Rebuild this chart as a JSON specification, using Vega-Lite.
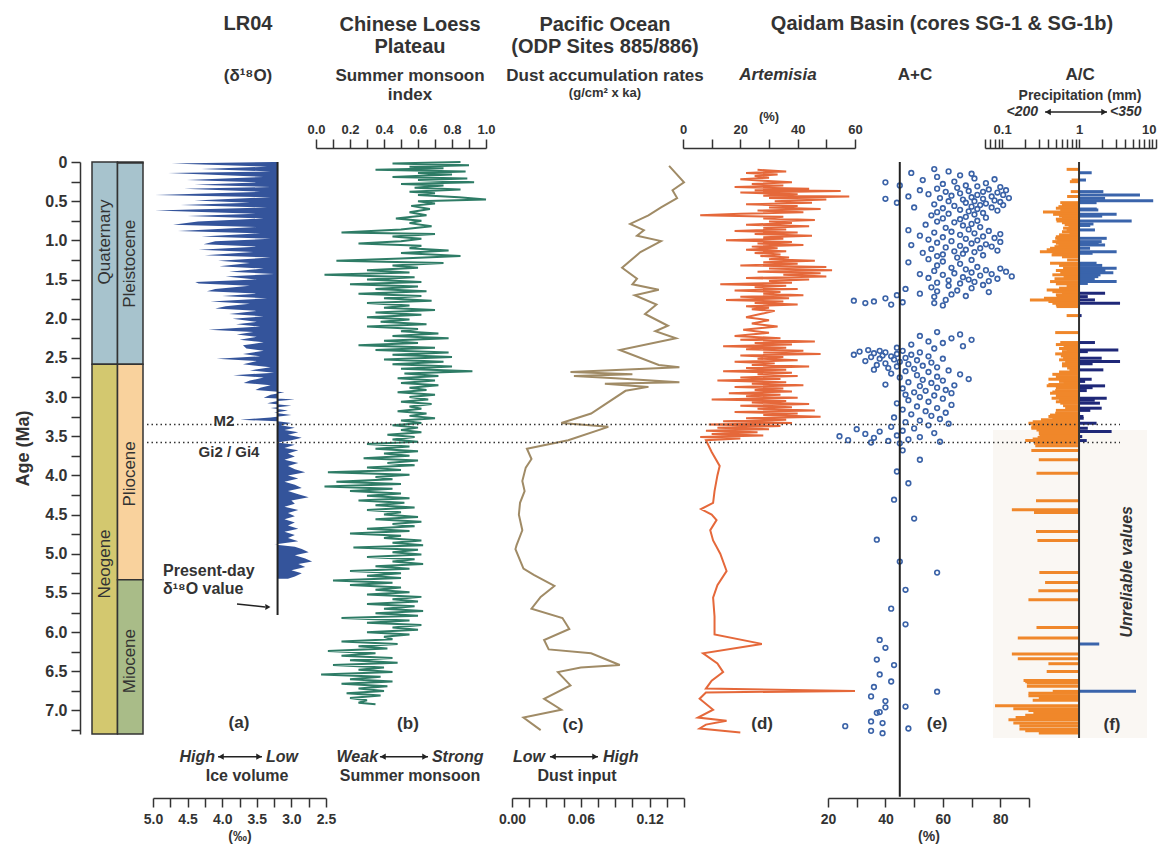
{
"$schema":"https://vega.github.io/schema/vega-lite/v6.json",
"width":1068,"height":572,
"autosize":{"type":"none"},
"padding":{"left":92,"top":162,"right":0,"bottom":112},
"background":"white",
"config":{
 "view":{"stroke":null},
 "font":"Liberation Sans",
 "axis":{"grid":false,"domainColor":"#333","domainWidth":1.5,"tickColor":"#333","tickWidth":1.5,"labelColor":"#333","labelFontWeight":"bold","titleColor":"#333","titleFontWeight":"bold"},
 "text":{"fontWeight":"bold","color":"#333","baseline":"middle","align":"center"}
},
"datasets":{
 "one":[{"n":1}],
 "ts":[{"unit":"Quaternary","level":"Period","age":0,"end":2.58},{"unit":"Neogene","level":"Period","age":2.58,"end":7.3},{"unit":"Holocene","level":"Epoch","age":0,"end":0.0117},{"unit":"Pleistocene","level":"Epoch","age":0.0117,"end":2.58},{"unit":"Pliocene","level":"Epoch","age":2.58,"end":5.333},{"unit":"Miocene","level":"Epoch","age":5.333,"end":7.3}],
 "lr04":[{"age":0.0,"v":3.25},{"age":0.02,"v":4.73},{"age":0.06,"v":3.35},{"age":0.09,"v":4.3},{"age":0.12,"v":3.3},{"age":0.14,"v":4.78},{"age":0.19,"v":3.4},{"age":0.23,"v":4.51},{"age":0.26,"v":3.5},{"age":0.29,"v":4.4},{"age":0.32,"v":3.3},{"age":0.34,"v":4.55},{"age":0.38,"v":3.45},{"age":0.42,"v":4.97},{"age":0.45,"v":3.3},{"age":0.49,"v":4.4},{"age":0.52,"v":3.6},{"age":0.55,"v":4.6},{"age":0.58,"v":3.35},{"age":0.62,"v":4.97},{"age":0.66,"v":3.5},{"age":0.69,"v":4.5},{"age":0.72,"v":3.4},{"age":0.76,"v":4.35},{"age":0.8,"v":4.71},{"age":0.83,"v":3.5},{"age":0.86,"v":4.2},{"age":0.88,"v":4.64},{"age":0.91,"v":3.45},{"age":0.95,"v":4.3},{"age":0.98,"v":3.3},{"age":1.01,"v":4.1},{"age":1.05,"v":4.27},{"age":1.08,"v":3.5},{"age":1.12,"v":4.34},{"age":1.15,"v":3.55},{"age":1.19,"v":4.25},{"age":1.22,"v":3.3},{"age":1.26,"v":4.06},{"age":1.29,"v":3.6},{"age":1.33,"v":4.04},{"age":1.36,"v":3.4},{"age":1.4,"v":3.9},{"age":1.43,"v":3.25},{"age":1.46,"v":3.95},{"age":1.5,"v":3.5},{"age":1.53,"v":4.39},{"age":1.55,"v":4.34},{"age":1.58,"v":3.6},{"age":1.62,"v":4.1},{"age":1.65,"v":4.22},{"age":1.68,"v":3.5},{"age":1.71,"v":4.0},{"age":1.74,"v":3.35},{"age":1.78,"v":4.17},{"age":1.81,"v":3.6},{"age":1.84,"v":3.95},{"age":1.87,"v":4.1},{"age":1.9,"v":3.5},{"age":1.94,"v":3.9},{"age":1.97,"v":3.4},{"age":2.0,"v":3.85},{"age":2.04,"v":3.5},{"age":2.07,"v":3.8},{"age":2.1,"v":3.45},{"age":2.14,"v":4.2},{"age":2.17,"v":3.55},{"age":2.2,"v":3.79},{"age":2.23,"v":3.5},{"age":2.27,"v":3.75},{"age":2.3,"v":3.4},{"age":2.34,"v":3.7},{"age":2.38,"v":3.65},{"age":2.41,"v":3.4},{"age":2.45,"v":3.7},{"age":2.48,"v":3.45},{"age":2.51,"v":4.08},{"age":2.54,"v":3.5},{"age":2.58,"v":3.7},{"age":2.62,"v":3.3},{"age":2.66,"v":3.6},{"age":2.69,"v":3.25},{"age":2.72,"v":3.84},{"age":2.75,"v":3.4},{"age":2.79,"v":3.6},{"age":2.82,"v":3.69},{"age":2.85,"v":3.3},{"age":2.88,"v":3.45},{"age":2.91,"v":3.52},{"age":2.94,"v":3.1},{"age":2.97,"v":3.3},{"age":3.01,"v":3.4},{"age":3.03,"v":2.95},{"age":3.05,"v":3.2},{"age":3.08,"v":3.35},{"age":3.11,"v":3.0},{"age":3.14,"v":3.3},{"age":3.17,"v":3.05},{"age":3.2,"v":3.25},{"age":3.23,"v":3.0},{"age":3.26,"v":3.3},{"age":3.29,"v":3.74},{"age":3.31,"v":3.2},{"age":3.33,"v":3.0},{"age":3.36,"v":3.15},{"age":3.39,"v":2.95},{"age":3.42,"v":3.1},{"age":3.45,"v":2.9},{"age":3.48,"v":3.05},{"age":3.52,"v":2.85},{"age":3.55,"v":3.0},{"age":3.58,"v":3.2},{"age":3.61,"v":2.95},{"age":3.65,"v":3.1},{"age":3.68,"v":2.9},{"age":3.72,"v":3.05},{"age":3.76,"v":2.95},{"age":3.8,"v":3.1},{"age":3.84,"v":2.9},{"age":3.88,"v":3.05},{"age":3.92,"v":2.95},{"age":3.96,"v":2.8},{"age":4.0,"v":3.05},{"age":4.04,"v":2.9},{"age":4.08,"v":3.1},{"age":4.12,"v":2.95},{"age":4.16,"v":2.85},{"age":4.2,"v":3.05},{"age":4.24,"v":2.9},{"age":4.28,"v":2.75},{"age":4.32,"v":3.0},{"age":4.36,"v":2.95},{"age":4.4,"v":3.1},{"age":4.44,"v":2.9},{"age":4.48,"v":3.05},{"age":4.52,"v":2.95},{"age":4.56,"v":3.1},{"age":4.6,"v":2.95},{"age":4.64,"v":3.05},{"age":4.68,"v":2.9},{"age":4.72,"v":3.1},{"age":4.76,"v":2.95},{"age":4.8,"v":3.05},{"age":4.84,"v":2.9},{"age":4.88,"v":3.25},{"age":4.91,"v":2.95},{"age":4.94,"v":2.85},{"age":4.98,"v":2.75},{"age":5.02,"v":2.95},{"age":5.06,"v":2.8},{"age":5.1,"v":2.7},{"age":5.13,"v":2.9},{"age":5.17,"v":2.8},{"age":5.21,"v":3.0},{"age":5.25,"v":2.85},{"age":5.29,"v":2.95},{"age":5.32,"v":3.05}],
 "loess":[{"age":0.0,"v":0.85},{"age":0.02,"v":0.45},{"age":0.04,"v":0.9},{"age":0.06,"v":0.55},{"age":0.08,"v":0.75},{"age":0.1,"v":0.35},{"age":0.12,"v":0.88},{"age":0.14,"v":0.6},{"age":0.16,"v":0.8},{"age":0.19,"v":0.45},{"age":0.21,"v":0.89},{"age":0.23,"v":0.6},{"age":0.26,"v":0.93},{"age":0.28,"v":0.5},{"age":0.3,"v":0.75},{"age":0.33,"v":0.58},{"age":0.35,"v":0.85},{"age":0.38,"v":0.55},{"age":0.4,"v":0.7},{"age":0.42,"v":0.6},{"age":0.45,"v":0.84},{"age":0.48,"v":1.0},{"age":0.5,"v":0.6},{"age":0.53,"v":0.7},{"age":0.56,"v":0.56},{"age":0.6,"v":0.67},{"age":0.64,"v":0.55},{"age":0.68,"v":0.65},{"age":0.72,"v":0.47},{"age":0.75,"v":0.62},{"age":0.78,"v":0.55},{"age":0.82,"v":0.68},{"age":0.86,"v":0.5},{"age":0.9,"v":0.15},{"age":0.92,"v":0.7},{"age":0.95,"v":0.45},{"age":0.98,"v":0.62},{"age":1.01,"v":0.5},{"age":1.04,"v":0.25},{"age":1.07,"v":0.62},{"age":1.1,"v":0.55},{"age":1.13,"v":0.78},{"age":1.16,"v":0.5},{"age":1.2,"v":0.85},{"age":1.23,"v":0.5},{"age":1.26,"v":0.12},{"age":1.29,"v":0.75},{"age":1.32,"v":0.45},{"age":1.35,"v":0.6},{"age":1.38,"v":0.3},{"age":1.41,"v":0.55},{"age":1.44,"v":0.05},{"age":1.47,"v":0.58},{"age":1.5,"v":0.3},{"age":1.53,"v":0.62},{"age":1.56,"v":0.2},{"age":1.59,"v":0.6},{"age":1.62,"v":0.35},{"age":1.65,"v":0.65},{"age":1.68,"v":0.25},{"age":1.71,"v":0.62},{"age":1.74,"v":0.4},{"age":1.77,"v":0.68},{"age":1.8,"v":0.3},{"age":1.83,"v":0.55},{"age":1.86,"v":0.4},{"age":1.89,"v":0.7},{"age":1.92,"v":0.35},{"age":1.95,"v":0.62},{"age":1.98,"v":0.3},{"age":2.01,"v":0.55},{"age":2.04,"v":0.38},{"age":2.07,"v":0.65},{"age":2.1,"v":0.3},{"age":2.13,"v":0.6},{"age":2.16,"v":0.5},{"age":2.19,"v":0.72},{"age":2.22,"v":0.45},{"age":2.25,"v":0.78},{"age":2.28,"v":0.4},{"age":2.31,"v":0.6},{"age":2.34,"v":0.25},{"age":2.37,"v":0.7},{"age":2.4,"v":0.35},{"age":2.43,"v":0.78},{"age":2.46,"v":0.45},{"age":2.49,"v":0.8},{"age":2.52,"v":0.4},{"age":2.55,"v":0.75},{"age":2.58,"v":0.45},{"age":2.61,"v":0.8},{"age":2.64,"v":0.5},{"age":2.67,"v":0.92},{"age":2.7,"v":0.52},{"age":2.73,"v":0.72},{"age":2.76,"v":0.48},{"age":2.79,"v":0.7},{"age":2.82,"v":0.5},{"age":2.85,"v":0.72},{"age":2.88,"v":0.55},{"age":2.91,"v":0.65},{"age":2.94,"v":0.48},{"age":2.97,"v":0.7},{"age":3.0,"v":0.55},{"age":3.03,"v":0.66},{"age":3.06,"v":0.5},{"age":3.09,"v":0.68},{"age":3.12,"v":0.55},{"age":3.15,"v":0.62},{"age":3.18,"v":0.48},{"age":3.21,"v":0.65},{"age":3.24,"v":0.55},{"age":3.27,"v":0.7},{"age":3.3,"v":0.5},{"age":3.33,"v":0.62},{"age":3.36,"v":0.45},{"age":3.39,"v":0.6},{"age":3.42,"v":0.5},{"age":3.45,"v":0.62},{"age":3.48,"v":0.42},{"age":3.51,"v":0.58},{"age":3.54,"v":0.45},{"age":3.57,"v":0.6},{"age":3.6,"v":0.3},{"age":3.63,"v":0.55},{"age":3.66,"v":0.35},{"age":3.69,"v":0.6},{"age":3.72,"v":0.4},{"age":3.75,"v":0.55},{"age":3.78,"v":0.28},{"age":3.81,"v":0.6},{"age":3.84,"v":0.42},{"age":3.87,"v":0.58},{"age":3.9,"v":0.3},{"age":3.93,"v":0.5},{"age":3.96,"v":0.07},{"age":3.99,"v":0.55},{"age":4.02,"v":0.35},{"age":4.05,"v":0.45},{"age":4.08,"v":0.12},{"age":4.11,"v":0.5},{"age":4.14,"v":0.05},{"age":4.17,"v":0.45},{"age":4.2,"v":0.2},{"age":4.23,"v":0.5},{"age":4.26,"v":0.3},{"age":4.29,"v":0.55},{"age":4.32,"v":0.25},{"age":4.35,"v":0.52},{"age":4.38,"v":0.35},{"age":4.41,"v":0.58},{"age":4.44,"v":0.3},{"age":4.47,"v":0.5},{"age":4.5,"v":0.4},{"age":4.53,"v":0.6},{"age":4.56,"v":0.35},{"age":4.59,"v":0.62},{"age":4.62,"v":0.45},{"age":4.65,"v":0.58},{"age":4.68,"v":0.3},{"age":4.71,"v":0.55},{"age":4.74,"v":0.2},{"age":4.77,"v":0.5},{"age":4.8,"v":0.4},{"age":4.83,"v":0.62},{"age":4.86,"v":0.45},{"age":4.89,"v":0.63},{"age":4.92,"v":0.22},{"age":4.95,"v":0.6},{"age":4.98,"v":0.45},{"age":5.01,"v":0.62},{"age":5.04,"v":0.3},{"age":5.07,"v":0.58},{"age":5.1,"v":0.45},{"age":5.13,"v":0.63},{"age":5.16,"v":0.35},{"age":5.19,"v":0.55},{"age":5.22,"v":0.2},{"age":5.25,"v":0.5},{"age":5.28,"v":0.3},{"age":5.31,"v":0.5},{"age":5.34,"v":0.1},{"age":5.37,"v":0.45},{"age":5.4,"v":0.2},{"age":5.43,"v":0.5},{"age":5.46,"v":0.35},{"age":5.49,"v":0.55},{"age":5.52,"v":0.3},{"age":5.55,"v":0.62},{"age":5.58,"v":0.45},{"age":5.61,"v":0.6},{"age":5.64,"v":0.3},{"age":5.67,"v":0.58},{"age":5.7,"v":0.4},{"age":5.73,"v":0.63},{"age":5.76,"v":0.35},{"age":5.79,"v":0.6},{"age":5.82,"v":0.15},{"age":5.85,"v":0.55},{"age":5.88,"v":0.3},{"age":5.91,"v":0.62},{"age":5.94,"v":0.45},{"age":5.97,"v":0.6},{"age":6.0,"v":0.3},{"age":6.03,"v":0.55},{"age":6.06,"v":0.4},{"age":6.09,"v":0.45},{"age":6.12,"v":0.15},{"age":6.15,"v":0.48},{"age":6.18,"v":0.25},{"age":6.21,"v":0.42},{"age":6.24,"v":0.07},{"age":6.27,"v":0.35},{"age":6.3,"v":0.15},{"age":6.33,"v":0.45},{"age":6.36,"v":0.2},{"age":6.39,"v":0.48},{"age":6.42,"v":0.1},{"age":6.45,"v":0.4},{"age":6.48,"v":0.25},{"age":6.51,"v":0.45},{"age":6.54,"v":0.03},{"age":6.57,"v":0.38},{"age":6.6,"v":0.2},{"age":6.63,"v":0.45},{"age":6.66,"v":0.15},{"age":6.69,"v":0.42},{"age":6.72,"v":0.25},{"age":6.75,"v":0.4},{"age":6.78,"v":0.18},{"age":6.81,"v":0.38},{"age":6.84,"v":0.2},{"age":6.87,"v":0.3},{"age":6.9,"v":0.25},{"age":6.92,"v":0.35}],
 "dust":[{"age":0.05,"v":0.137},{"age":0.26,"v":0.15},{"age":0.36,"v":0.14},{"age":0.46,"v":0.144},{"age":0.58,"v":0.13},{"age":0.68,"v":0.119},{"age":0.79,"v":0.103},{"age":0.87,"v":0.115},{"age":0.94,"v":0.109},{"age":1.01,"v":0.13},{"age":1.15,"v":0.112},{"age":1.35,"v":0.096},{"age":1.49,"v":0.109},{"age":1.56,"v":0.105},{"age":1.63,"v":0.128},{"age":1.7,"v":0.107},{"age":1.82,"v":0.126},{"age":1.94,"v":0.116},{"age":2.09,"v":0.136},{"age":2.16,"v":0.125},{"age":2.25,"v":0.143},{"age":2.4,"v":0.094},{"age":2.59,"v":0.128},{"age":2.62,"v":0.146},{"age":2.68,"v":0.051},{"age":2.71,"v":0.105},{"age":2.73,"v":0.054},{"age":2.76,"v":0.09},{"age":2.81,"v":0.146},{"age":2.83,"v":0.081},{"age":2.87,"v":0.119},{"age":2.92,"v":0.099},{"age":3.21,"v":0.069},{"age":3.33,"v":0.043},{"age":3.38,"v":0.084},{"age":3.55,"v":0.049},{"age":3.66,"v":0.013},{"age":3.79,"v":0.017},{"age":3.9,"v":0.012},{"age":4.07,"v":0.009},{"age":4.2,"v":0.011},{"age":4.35,"v":0.007},{"age":4.5,"v":0.006},{"age":4.7,"v":0.009},{"age":4.89,"v":0.004},{"age":4.94,"v":0.003},{"age":5.19,"v":0.01},{"age":5.27,"v":0.019},{"age":5.41,"v":0.037},{"age":5.55,"v":0.025},{"age":5.7,"v":0.017},{"age":5.82,"v":0.044},{"age":5.96,"v":0.05},{"age":6.1,"v":0.028},{"age":6.22,"v":0.032},{"age":6.27,"v":0.069},{"age":6.42,"v":0.094},{"age":6.45,"v":0.06},{"age":6.51,"v":0.04},{"age":6.68,"v":0.051},{"age":6.85,"v":0.028},{"age":6.99,"v":0.043},{"age":7.09,"v":0.01},{"age":7.25,"v":0.025}],
 "art":[{"age":0.1,"v":26},{"age":0.12,"v":36},{"age":0.14,"v":22},{"age":0.16,"v":33},{"age":0.18,"v":25},{"age":0.2,"v":30},{"age":0.22,"v":20},{"age":0.24,"v":28},{"age":0.26,"v":38},{"age":0.28,"v":24},{"age":0.3,"v":35},{"age":0.32,"v":18},{"age":0.34,"v":44},{"age":0.36,"v":25},{"age":0.37,"v":55},{"age":0.39,"v":20},{"age":0.41,"v":40},{"age":0.43,"v":28},{"age":0.44,"v":58},{"age":0.46,"v":30},{"age":0.48,"v":50},{"age":0.5,"v":32},{"age":0.52,"v":45},{"age":0.54,"v":22},{"age":0.56,"v":40},{"age":0.58,"v":30},{"age":0.6,"v":48},{"age":0.62,"v":26},{"age":0.64,"v":42},{"age":0.66,"v":20},{"age":0.68,"v":6},{"age":0.7,"v":35},{"age":0.72,"v":28},{"age":0.74,"v":46},{"age":0.76,"v":30},{"age":0.78,"v":38},{"age":0.8,"v":22},{"age":0.82,"v":44},{"age":0.84,"v":28},{"age":0.86,"v":36},{"age":0.88,"v":18},{"age":0.9,"v":40},{"age":0.92,"v":25},{"age":0.94,"v":45},{"age":0.96,"v":28},{"age":0.98,"v":35},{"age":1.0,"v":15},{"age":1.02,"v":38},{"age":1.04,"v":26},{"age":1.06,"v":42},{"age":1.08,"v":24},{"age":1.1,"v":33},{"age":1.12,"v":22},{"age":1.14,"v":36},{"age":1.16,"v":25},{"age":1.18,"v":34},{"age":1.2,"v":27},{"age":1.22,"v":37},{"age":1.24,"v":30},{"age":1.26,"v":46},{"age":1.28,"v":28},{"age":1.3,"v":40},{"age":1.32,"v":20},{"age":1.34,"v":50},{"age":1.36,"v":30},{"age":1.38,"v":52},{"age":1.4,"v":26},{"age":1.42,"v":48},{"age":1.44,"v":35},{"age":1.46,"v":50},{"age":1.48,"v":22},{"age":1.5,"v":44},{"age":1.52,"v":30},{"age":1.54,"v":38},{"age":1.56,"v":13},{"age":1.58,"v":36},{"age":1.6,"v":25},{"age":1.62,"v":40},{"age":1.64,"v":18},{"age":1.66,"v":34},{"age":1.68,"v":28},{"age":1.7,"v":42},{"age":1.72,"v":20},{"age":1.74,"v":37},{"age":1.76,"v":15},{"age":1.78,"v":35},{"age":1.8,"v":25},{"age":1.82,"v":40},{"age":1.84,"v":22},{"age":1.86,"v":30},{"age":1.88,"v":24},{"age":1.9,"v":32},{"age":1.94,"v":27},{"age":1.98,"v":22},{"age":2.02,"v":30},{"age":2.06,"v":24},{"age":2.1,"v":33},{"age":2.14,"v":21},{"age":2.18,"v":30},{"age":2.22,"v":18},{"age":2.25,"v":34},{"age":2.27,"v":20},{"age":2.29,"v":46},{"age":2.31,"v":25},{"age":2.33,"v":38},{"age":2.35,"v":14},{"age":2.37,"v":36},{"age":2.39,"v":22},{"age":2.41,"v":42},{"age":2.43,"v":28},{"age":2.45,"v":48},{"age":2.47,"v":20},{"age":2.49,"v":35},{"age":2.51,"v":26},{"age":2.53,"v":40},{"age":2.55,"v":18},{"age":2.57,"v":32},{"age":2.59,"v":24},{"age":2.61,"v":44},{"age":2.63,"v":22},{"age":2.65,"v":36},{"age":2.67,"v":14},{"age":2.69,"v":38},{"age":2.71,"v":26},{"age":2.73,"v":40},{"age":2.75,"v":20},{"age":2.77,"v":34},{"age":2.79,"v":12},{"age":2.81,"v":36},{"age":2.83,"v":24},{"age":2.85,"v":42},{"age":2.87,"v":18},{"age":2.89,"v":35},{"age":2.91,"v":25},{"age":2.93,"v":38},{"age":2.95,"v":16},{"age":2.97,"v":34},{"age":2.99,"v":22},{"age":3.01,"v":40},{"age":3.03,"v":10},{"age":3.05,"v":36},{"age":3.07,"v":24},{"age":3.09,"v":44},{"age":3.11,"v":20},{"age":3.13,"v":38},{"age":3.15,"v":26},{"age":3.17,"v":46},{"age":3.19,"v":18},{"age":3.21,"v":40},{"age":3.23,"v":28},{"age":3.25,"v":48},{"age":3.27,"v":22},{"age":3.29,"v":36},{"age":3.31,"v":14},{"age":3.33,"v":38},{"age":3.35,"v":9},{"age":3.37,"v":34},{"age":3.39,"v":12},{"age":3.41,"v":30},{"age":3.43,"v":8},{"age":3.45,"v":26},{"age":3.47,"v":10},{"age":3.49,"v":28},{"age":3.51,"v":6},{"age":3.53,"v":20},{"age":3.55,"v":8},{"age":3.7,"v":10},{"age":3.88,"v":12.8},{"age":4.0,"v":12},{"age":4.2,"v":11},{"age":4.35,"v":10.5},{"age":4.43,"v":6.3},{"age":4.5,"v":10},{"age":4.57,"v":11.7},{"age":4.7,"v":9.5},{"age":4.83,"v":10.5},{"age":5.0,"v":13},{"age":5.22,"v":15.2},{"age":5.4,"v":12},{"age":5.56,"v":10.5},{"age":5.8,"v":11},{"age":6.03,"v":11},{"age":6.15,"v":27.5},{"age":6.27,"v":7},{"age":6.4,"v":12},{"age":6.51,"v":14},{"age":6.62,"v":10},{"age":6.72,"v":8},{"age":6.75,"v":60},{"age":6.77,"v":8},{"age":6.85,"v":5.8},{"age":6.99,"v":10.5},{"age":7.09,"v":5.2},{"age":7.13,"v":15.2},{"age":7.18,"v":8},{"age":7.23,"v":5.8},{"age":7.28,"v":20}],
 "apc":[{"age":0.09,"v":57},{"age":0.12,"v":62},{"age":0.14,"v":49},{"age":0.15,"v":70},{"age":0.17,"v":66},{"age":0.19,"v":58},{"age":0.21,"v":71},{"age":0.22,"v":78},{"age":0.23,"v":53},{"age":0.25,"v":64},{"age":0.26,"v":40},{"age":0.27,"v":75},{"age":0.28,"v":60},{"age":0.3,"v":45},{"age":0.3,"v":68},{"age":0.31,"v":72},{"age":0.32,"v":80},{"age":0.33,"v":65},{"age":0.34,"v":58},{"age":0.35,"v":76},{"age":0.36,"v":82},{"age":0.36,"v":52},{"age":0.37,"v":69},{"age":0.38,"v":61},{"age":0.38,"v":74},{"age":0.39,"v":79},{"age":0.4,"v":66},{"age":0.41,"v":55},{"age":0.42,"v":72},{"age":0.42,"v":81},{"age":0.43,"v":63},{"age":0.44,"v":77},{"age":0.44,"v":48},{"age":0.45,"v":70},{"age":0.46,"v":59},{"age":0.46,"v":83},{"age":0.47,"v":74},{"age":0.47,"v":40},{"age":0.48,"v":67},{"age":0.49,"v":78},{"age":0.5,"v":62},{"age":0.5,"v":71},{"age":0.51,"v":80},{"age":0.52,"v":68},{"age":0.52,"v":44},{"age":0.53,"v":75},{"age":0.54,"v":57},{"age":0.55,"v":73},{"age":0.55,"v":81},{"age":0.56,"v":64},{"age":0.57,"v":70},{"age":0.58,"v":77},{"age":0.58,"v":50},{"age":0.59,"v":60},{"age":0.6,"v":72},{"age":0.61,"v":66},{"age":0.62,"v":79},{"age":0.63,"v":69},{"age":0.64,"v":58},{"age":0.65,"v":74},{"age":0.66,"v":62},{"age":0.67,"v":71},{"age":0.68,"v":56},{"age":0.7,"v":68},{"age":0.71,"v":75},{"age":0.72,"v":60},{"age":0.73,"v":66},{"age":0.75,"v":72},{"age":0.76,"v":58},{"age":0.77,"v":64},{"age":0.79,"v":70},{"age":0.8,"v":54},{"age":0.81,"v":67},{"age":0.83,"v":73},{"age":0.84,"v":61},{"age":0.86,"v":69},{"age":0.87,"v":48},{"age":0.88,"v":76},{"age":0.89,"v":63},{"age":0.9,"v":57},{"age":0.91,"v":71},{"age":0.92,"v":80},{"age":0.93,"v":66},{"age":0.94,"v":52},{"age":0.95,"v":74},{"age":0.96,"v":60},{"age":0.97,"v":78},{"age":0.98,"v":68},{"age":0.99,"v":55},{"age":1.0,"v":72},{"age":1.01,"v":63},{"age":1.02,"v":80},{"age":1.03,"v":58},{"age":1.04,"v":70},{"age":1.05,"v":75},{"age":1.06,"v":49},{"age":1.07,"v":66},{"age":1.08,"v":77},{"age":1.09,"v":61},{"age":1.1,"v":73},{"age":1.11,"v":56},{"age":1.12,"v":68},{"age":1.13,"v":79},{"age":1.14,"v":64},{"age":1.15,"v":71},{"age":1.16,"v":53},{"age":1.17,"v":67},{"age":1.18,"v":60},{"age":1.19,"v":74},{"age":1.2,"v":58},{"age":1.22,"v":65},{"age":1.24,"v":55},{"age":1.25,"v":70},{"age":1.27,"v":60},{"age":1.28,"v":48},{"age":1.3,"v":66},{"age":1.32,"v":58},{"age":1.34,"v":72},{"age":1.35,"v":63},{"age":1.36,"v":80},{"age":1.37,"v":68},{"age":1.38,"v":75},{"age":1.39,"v":57},{"age":1.4,"v":82},{"age":1.41,"v":70},{"age":1.42,"v":64},{"age":1.43,"v":77},{"age":1.43,"v":52},{"age":1.44,"v":60},{"age":1.45,"v":73},{"age":1.46,"v":84},{"age":1.47,"v":67},{"age":1.48,"v":55},{"age":1.49,"v":79},{"age":1.5,"v":69},{"age":1.51,"v":62},{"age":1.52,"v":76},{"age":1.53,"v":71},{"age":1.54,"v":58},{"age":1.55,"v":66},{"age":1.57,"v":74},{"age":1.58,"v":62},{"age":1.6,"v":56},{"age":1.61,"v":70},{"age":1.62,"v":47},{"age":1.64,"v":65},{"age":1.65,"v":58},{"age":1.66,"v":76},{"age":1.68,"v":52},{"age":1.69,"v":63},{"age":1.7,"v":44},{"age":1.71,"v":68},{"age":1.72,"v":57},{"age":1.74,"v":40},{"age":1.76,"v":61},{"age":1.77,"v":29},{"age":1.78,"v":36},{"age":1.79,"v":46},{"age":1.8,"v":33},{"age":1.8,"v":57},{"age":1.82,"v":42},{"age":1.83,"v":60},{"age":2.17,"v":58},{"age":2.2,"v":66},{"age":2.22,"v":52},{"age":2.25,"v":63},{"age":2.27,"v":70},{"age":2.29,"v":55},{"age":2.31,"v":60},{"age":2.33,"v":49},{"age":2.35,"v":67},{"age":2.37,"v":44},{"age":2.38,"v":57},{"age":2.4,"v":34},{"age":2.41,"v":38},{"age":2.41,"v":46},{"age":2.42,"v":31},{"age":2.43,"v":40},{"age":2.43,"v":52},{"age":2.44,"v":36},{"age":2.45,"v":44},{"age":2.46,"v":29},{"age":2.46,"v":49},{"age":2.47,"v":39},{"age":2.48,"v":55},{"age":2.48,"v":42},{"age":2.49,"v":35},{"age":2.5,"v":47},{"age":2.51,"v":60},{"age":2.51,"v":38},{"age":2.52,"v":43},{"age":2.53,"v":51},{"age":2.54,"v":33},{"age":2.55,"v":45},{"age":2.56,"v":56},{"age":2.57,"v":40},{"age":2.58,"v":48},{"age":2.59,"v":37},{"age":2.6,"v":53},{"age":2.61,"v":44},{"age":2.62,"v":58},{"age":2.63,"v":41},{"age":2.64,"v":50},{"age":2.65,"v":36},{"age":2.66,"v":62},{"age":2.67,"v":47},{"age":2.68,"v":55},{"age":2.7,"v":42},{"age":2.71,"v":66},{"age":2.72,"v":51},{"age":2.74,"v":58},{"age":2.75,"v":45},{"age":2.77,"v":69},{"age":2.78,"v":53},{"age":2.79,"v":60},{"age":2.81,"v":48},{"age":2.82,"v":56},{"age":2.84,"v":40},{"age":2.85,"v":64},{"age":2.86,"v":52},{"age":2.88,"v":58},{"age":2.89,"v":46},{"age":2.91,"v":61},{"age":2.92,"v":54},{"age":2.94,"v":50},{"age":2.95,"v":63},{"age":2.97,"v":47},{"age":2.98,"v":57},{"age":3.0,"v":52},{"age":3.02,"v":60},{"age":3.04,"v":48},{"age":3.06,"v":55},{"age":3.08,"v":44},{"age":3.1,"v":63},{"age":3.12,"v":51},{"age":3.14,"v":58},{"age":3.16,"v":46},{"age":3.18,"v":54},{"age":3.2,"v":61},{"age":3.22,"v":49},{"age":3.24,"v":56},{"age":3.26,"v":43},{"age":3.28,"v":59},{"age":3.3,"v":52},{"age":3.32,"v":47},{"age":3.34,"v":62},{"age":3.36,"v":55},{"age":3.38,"v":42},{"age":3.4,"v":50},{"age":3.41,"v":30},{"age":3.43,"v":46},{"age":3.44,"v":38},{"age":3.46,"v":57},{"age":3.47,"v":33},{"age":3.49,"v":44},{"age":3.5,"v":24},{"age":3.51,"v":52},{"age":3.52,"v":36},{"age":3.54,"v":48},{"age":3.55,"v":27},{"age":3.56,"v":41},{"age":3.57,"v":59},{"age":3.58,"v":35},{"age":3.59,"v":45},{"age":3.68,"v":46},{"age":3.8,"v":52},{"age":3.95,"v":44},{"age":4.1,"v":48},{"age":4.31,"v":43},{"age":4.55,"v":50},{"age":4.82,"v":37},{"age":5.1,"v":45},{"age":5.24,"v":58},{"age":5.46,"v":47},{"age":5.7,"v":42},{"age":5.9,"v":47},{"age":6.1,"v":38},{"age":6.2,"v":40},{"age":6.35,"v":37},{"age":6.42,"v":43},{"age":6.54,"v":38},{"age":6.63,"v":42},{"age":6.7,"v":36},{"age":6.76,"v":58},{"age":6.82,"v":35},{"age":6.88,"v":40},{"age":6.95,"v":47},{"age":6.96,"v":40},{"age":7.02,"v":38},{"age":7.03,"v":37},{"age":7.14,"v":35},{"age":7.16,"v":39},{"age":7.2,"v":26},{"age":7.23,"v":48},{"age":7.26,"v":35},{"age":7.29,"v":39}],
 "ac":[{"age":0.094,"v":0.69,"s":"lt1"},{"age":0.23,"v":0.8,"s":"lt1"},{"age":0.251,"v":0.76,"s":"lt1"},{"age":0.378,"v":0.78,"s":"lt1"},{"age":0.44,"v":0.7,"s":"lt1"},{"age":0.519,"v":0.57,"s":"lt1"},{"age":0.545,"v":0.6,"s":"lt1"},{"age":0.57,"v":0.54,"s":"lt1"},{"age":0.59,"v":0.5,"s":"lt1"},{"age":0.612,"v":0.57,"s":"lt1"},{"age":0.638,"v":0.34,"s":"lt1"},{"age":0.668,"v":0.46,"s":"lt1"},{"age":0.69,"v":0.55,"s":"lt1"},{"age":0.71,"v":0.6,"s":"lt1"},{"age":0.73,"v":0.5,"s":"lt1"},{"age":0.753,"v":0.51,"s":"lt1"},{"age":0.775,"v":0.6,"s":"lt1"},{"age":0.8,"v":0.65,"s":"lt1"},{"age":0.825,"v":0.73,"s":"lt1"},{"age":0.845,"v":0.62,"s":"lt1"},{"age":0.867,"v":0.69,"s":"lt1"},{"age":0.89,"v":0.6,"s":"lt1"},{"age":0.91,"v":0.75,"s":"lt1"},{"age":0.93,"v":0.55,"s":"lt1"},{"age":0.954,"v":0.5,"s":"lt1"},{"age":0.974,"v":0.49,"s":"lt1"},{"age":0.995,"v":0.52,"s":"lt1"},{"age":1.016,"v":0.45,"s":"lt1"},{"age":1.037,"v":0.5,"s":"lt1"},{"age":1.059,"v":0.54,"s":"lt1"},{"age":1.08,"v":0.48,"s":"lt1"},{"age":1.101,"v":0.42,"s":"lt1"},{"age":1.12,"v":0.38,"s":"lt1"},{"age":1.144,"v":0.31,"s":"lt1"},{"age":1.165,"v":0.45,"s":"lt1"},{"age":1.186,"v":0.44,"s":"lt1"},{"age":1.21,"v":0.6,"s":"lt1"},{"age":1.25,"v":0.7,"s":"lt1"},{"age":1.292,"v":0.42,"s":"lt1"},{"age":1.32,"v":0.55,"s":"lt1"},{"age":1.356,"v":0.62,"s":"lt1"},{"age":1.385,"v":0.5,"s":"lt1"},{"age":1.412,"v":0.57,"s":"lt1"},{"age":1.44,"v":0.45,"s":"lt1"},{"age":1.463,"v":0.63,"s":"lt1"},{"age":1.49,"v":0.48,"s":"lt1"},{"age":1.526,"v":0.42,"s":"lt1"},{"age":1.555,"v":0.5,"s":"lt1"},{"age":1.582,"v":0.69,"s":"lt1"},{"age":1.61,"v":0.55,"s":"lt1"},{"age":1.633,"v":0.38,"s":"lt1"},{"age":1.655,"v":0.45,"s":"lt1"},{"age":1.675,"v":0.6,"s":"lt1"},{"age":1.695,"v":0.5,"s":"lt1"},{"age":1.718,"v":0.51,"s":"lt1"},{"age":1.74,"v":0.35,"s":"lt1"},{"age":1.76,"v":0.23,"s":"lt1"},{"age":1.78,"v":0.4,"s":"lt1"},{"age":1.803,"v":0.45,"s":"lt1"},{"age":1.825,"v":0.5,"s":"lt1"},{"age":1.845,"v":0.51,"s":"lt1"},{"age":1.96,"v":0.69,"s":"lt1"},{"age":2.177,"v":0.49,"s":"lt1"},{"age":2.304,"v":0.57,"s":"lt1"},{"age":2.33,"v":0.5,"s":"lt1"},{"age":2.355,"v":0.63,"s":"lt1"},{"age":2.38,"v":0.55,"s":"lt1"},{"age":2.398,"v":0.69,"s":"lt1"},{"age":2.42,"v":0.6,"s":"lt1"},{"age":2.449,"v":0.49,"s":"lt1"},{"age":2.475,"v":0.58,"s":"lt1"},{"age":2.504,"v":0.62,"s":"lt1"},{"age":2.525,"v":0.55,"s":"lt1"},{"age":2.547,"v":0.66,"s":"lt1"},{"age":2.575,"v":0.6,"s":"lt1"},{"age":2.602,"v":0.6,"s":"lt1"},{"age":2.63,"v":0.7,"s":"lt1"},{"age":2.653,"v":0.75,"s":"lt1"},{"age":2.68,"v":0.55,"s":"lt1"},{"age":2.71,"v":0.45,"s":"lt1"},{"age":2.74,"v":0.5,"s":"lt1"},{"age":2.772,"v":0.4,"s":"lt1"},{"age":2.8,"v":0.55,"s":"lt1"},{"age":2.823,"v":0.63,"s":"lt1"},{"age":2.84,"v":0.4,"s":"lt1"},{"age":2.857,"v":0.38,"s":"lt1"},{"age":2.88,"v":0.5,"s":"lt1"},{"age":2.917,"v":0.49,"s":"lt1"},{"age":2.935,"v":0.45,"s":"lt1"},{"age":2.951,"v":0.42,"s":"lt1"},{"age":2.98,"v":0.5,"s":"lt1"},{"age":3.015,"v":0.44,"s":"lt1"},{"age":3.04,"v":0.55,"s":"lt1"},{"age":3.06,"v":0.5,"s":"lt1"},{"age":3.078,"v":0.57,"s":"lt1"},{"age":3.11,"v":0.62,"s":"lt1"},{"age":3.142,"v":0.66,"s":"lt1"},{"age":3.17,"v":0.5,"s":"lt1"},{"age":3.206,"v":0.49,"s":"lt1"},{"age":3.23,"v":0.42,"s":"lt1"},{"age":3.248,"v":0.4,"s":"lt1"},{"age":3.27,"v":0.45,"s":"lt1"},{"age":3.29,"v":0.32,"s":"lt1"},{"age":3.314,"v":0.25,"s":"lt1"},{"age":3.334,"v":0.22,"s":"lt1"},{"age":3.36,"v":0.25,"s":"lt1"},{"age":3.38,"v":0.24,"s":"lt1"},{"age":3.398,"v":0.24,"s":"lt1"},{"age":3.42,"v":0.28,"s":"lt1"},{"age":3.44,"v":0.3,"s":"lt1"},{"age":3.47,"v":0.3,"s":"lt1"},{"age":3.495,"v":0.31,"s":"lt1"},{"age":3.515,"v":0.29,"s":"lt1"},{"age":3.535,"v":0.25,"s":"lt1"},{"age":3.555,"v":0.2,"s":"lt1"},{"age":3.589,"v":0.26,"s":"lt1"},{"age":3.62,"v":0.27,"s":"lt1"},{"age":3.682,"v":0.24,"s":"lt1"},{"age":3.801,"v":0.3,"s":"lt1"},{"age":3.971,"v":0.28,"s":"lt1"},{"age":4.324,"v":0.276,"s":"lt1"},{"age":4.439,"v":0.134,"s":"lt1"},{"age":4.473,"v":0.26,"s":"lt1"},{"age":4.715,"v":0.276,"s":"lt1"},{"age":4.83,"v":0.288,"s":"lt1"},{"age":5.238,"v":0.305,"s":"lt1"},{"age":5.365,"v":0.362,"s":"lt1"},{"age":5.472,"v":0.296,"s":"lt1"},{"age":5.587,"v":0.22,"s":"lt1"},{"age":5.94,"v":0.28,"s":"lt1"},{"age":6.076,"v":0.16,"s":"lt1"},{"age":6.28,"v":0.134,"s":"lt1"},{"age":6.339,"v":0.16,"s":"lt1"},{"age":6.403,"v":0.4,"s":"lt1"},{"age":6.501,"v":0.38,"s":"lt1"},{"age":6.616,"v":0.19,"s":"lt1"},{"age":6.633,"v":0.2,"s":"lt1"},{"age":6.65,"v":0.21,"s":"lt1"},{"age":6.692,"v":0.21,"s":"lt1"},{"age":6.756,"v":0.455,"s":"lt1"},{"age":6.78,"v":0.22,"s":"lt1"},{"age":6.811,"v":0.22,"s":"lt1"},{"age":6.841,"v":0.3,"s":"lt1"},{"age":6.87,"v":0.25,"s":"lt1"},{"age":6.939,"v":0.081,"s":"lt1"},{"age":6.977,"v":0.14,"s":"lt1"},{"age":7.0,"v":0.22,"s":"lt1"},{"age":7.032,"v":0.255,"s":"lt1"},{"age":7.06,"v":0.2,"s":"lt1"},{"age":7.09,"v":0.15,"s":"lt1"},{"age":7.117,"v":0.121,"s":"lt1"},{"age":7.16,"v":0.14,"s":"lt1"},{"age":7.194,"v":0.168,"s":"lt1"},{"age":7.236,"v":0.168,"s":"lt1"},{"age":7.26,"v":0.2,"s":"lt1"},{"age":7.287,"v":0.3,"s":"lt1"},
 {"age":0.136,"v":1.46,"s":"gt1b"},{"age":0.23,"v":1.23,"s":"gt1b"},{"age":0.378,"v":2.07,"s":"gt1b"},{"age":0.421,"v":6.19,"s":"gt1b"},{"age":0.464,"v":2.18,"s":"gt1b"},{"age":0.493,"v":9.2,"s":"gt1b"},{"age":0.519,"v":1.69,"s":"gt1b"},{"age":0.6,"v":1.7,"s":"gt1b"},{"age":0.612,"v":1.78,"s":"gt1b"},{"age":0.668,"v":3.08,"s":"gt1b"},{"age":0.69,"v":2.0,"s":"gt1b"},{"age":0.753,"v":4.83,"s":"gt1b"},{"age":0.791,"v":1.54,"s":"gt1b"},{"age":0.81,"v":1.4,"s":"gt1b"},{"age":0.867,"v":1.61,"s":"gt1b"},{"age":0.974,"v":2.29,"s":"gt1b"},{"age":1.016,"v":1.97,"s":"gt1b"},{"age":1.04,"v":1.8,"s":"gt1b"},{"age":1.059,"v":2.18,"s":"gt1b"},{"age":1.101,"v":1.39,"s":"gt1b"},{"age":1.144,"v":3.08,"s":"gt1b"},{"age":1.165,"v":1.5,"s":"gt1b"},{"age":1.292,"v":1.69,"s":"gt1b"},{"age":1.32,"v":2.0,"s":"gt1b"},{"age":1.356,"v":3.08,"s":"gt1b"},{"age":1.385,"v":2.2,"s":"gt1b"},{"age":1.412,"v":2.79,"s":"gt1b"},{"age":1.44,"v":1.9,"s":"gt1b"},{"age":1.463,"v":1.78,"s":"gt1b"},{"age":1.49,"v":1.6,"s":"gt1b"},{"age":1.526,"v":3.08,"s":"gt1b"},{"age":1.55,"v":1.3,"s":"gt1b"},{"age":6.152,"v":1.83,"s":"gt1b"},{"age":6.756,"v":5.5,"s":"gt1b"},
 {"age":1.675,"v":2.18,"s":"gt1"},{"age":1.718,"v":1.3,"s":"gt1"},{"age":1.76,"v":1.61,"s":"gt1"},{"age":1.803,"v":3.41,"s":"gt1"},{"age":1.96,"v":1.08,"s":"gt1"},{"age":2.304,"v":1.61,"s":"gt1"},{"age":2.398,"v":3.24,"s":"gt1"},{"age":2.42,"v":1.3,"s":"gt1"},{"age":2.504,"v":1.97,"s":"gt1"},{"age":2.547,"v":3.41,"s":"gt1"},{"age":2.575,"v":1.5,"s":"gt1"},{"age":2.653,"v":2.07,"s":"gt1"},{"age":2.772,"v":1.46,"s":"gt1"},{"age":2.8,"v":1.2,"s":"gt1"},{"age":2.857,"v":2.18,"s":"gt1"},{"age":2.88,"v":1.5,"s":"gt1"},{"age":2.917,"v":1.26,"s":"gt1"},{"age":3.015,"v":2.29,"s":"gt1"},{"age":3.04,"v":1.6,"s":"gt1"},{"age":3.078,"v":1.87,"s":"gt1"},{"age":3.142,"v":1.97,"s":"gt1"},{"age":3.17,"v":1.4,"s":"gt1"},{"age":3.248,"v":1.14,"s":"gt1"},{"age":3.27,"v":1.15,"s":"gt1"},{"age":3.334,"v":1.69,"s":"gt1"},{"age":3.398,"v":1.3,"s":"gt1"},{"age":3.44,"v":2.65,"s":"gt1"},{"age":3.504,"v":1.1,"s":"gt1"},{"age":3.555,"v":1.26,"s":"gt1"}],
 "events":[{"age":3.35,"event":"M2"},{"age":3.58,"event":"Gi2 / Gi4"}]
},
"resolve":{"scale":{"x":"independent","color":"independent"},"axis":{"x":"independent","y":"independent"}},
"layer":[
 {"data":{"name":"ts"},"mark":{"type":"rect","stroke":"#333","strokeWidth":1.5},
  "encoding":{"x":{"field":"level","type":"nominal","scale":{"domain":["Period","Epoch"],"range":[0,51],"paddingInner":0,"paddingOuter":0},"axis":null},
   "y":{"field":"age","type":"quantitative","scale":{"domain":[0,7.3],"reverse":true,"nice":false,"zero":false,"padding":0},
    "axis":{"orient":"left","offset":12,"values":[0,0.25,0.5,0.75,1,1.25,1.5,1.75,2,2.25,2.5,2.75,3,3.25,3.5,3.75,4,4.25,4.5,4.75,5,5.25,5.5,5.75,6,6.25,6.5,6.75,7,7.25],"labelExpr":"datum.value % 0.5 == 0 ? (datum.value == 0 ? '0' : format(datum.value, '.1f')) : ''","labelOverlap":false,"labelFlush":false,"tickSize":9,"labelPadding":4,"labelFontSize":16,"title":"Age (Ma)","titleFontSize":18,"titlePadding":12}},
   "y2":{"field":"end"},
   "color":{"field":"unit","type":"nominal","scale":{"domain":["Quaternary","Neogene","Holocene","Pleistocene","Pliocene","Miocene"],"range":["#a7c3cd","#d3c86f","#1c87b8","#a7c3cd","#f9d29d","#a9bc88"]},"legend":null}}},
 {"data":{"name":"one"},"mark":{"type":"text","angle":270,"fontSize":17,"fontWeight":"normal"},"encoding":{"x":{"datum":"Period","type":"nominal","scale":{"domain":["Period","Epoch"],"range":[0,51],"paddingInner":0,"paddingOuter":0},"axis":null},"y":{"datum":1.02,"type":"quantitative","axis":null},"text":{"value":"Quaternary"}}},
 {"data":{"name":"one"},"mark":{"type":"text","angle":270,"fontSize":17,"fontWeight":"normal"},"encoding":{"x":{"datum":"Period","type":"nominal","scale":{"domain":["Period","Epoch"],"range":[0,51],"paddingInner":0,"paddingOuter":0},"axis":null},"y":{"datum":5.13,"type":"quantitative","axis":null},"text":{"value":"Neogene"}}},
 {"data":{"name":"one"},"mark":{"type":"text","angle":270,"fontSize":17,"fontWeight":"normal"},"encoding":{"x":{"datum":"Epoch","type":"nominal","scale":{"domain":["Period","Epoch"],"range":[0,51],"paddingInner":0,"paddingOuter":0},"axis":null},"y":{"datum":1.3,"type":"quantitative","axis":null},"text":{"value":"Pleistocene"}}},
 {"data":{"name":"one"},"mark":{"type":"text","angle":270,"fontSize":17,"fontWeight":"normal"},"encoding":{"x":{"datum":"Epoch","type":"nominal","scale":{"domain":["Period","Epoch"],"range":[0,51],"paddingInner":0,"paddingOuter":0},"axis":null},"y":{"datum":3.98,"type":"quantitative","axis":null},"text":{"value":"Pliocene"}}},
 {"data":{"name":"one"},"mark":{"type":"text","angle":270,"fontSize":17,"fontWeight":"normal"},"encoding":{"x":{"datum":"Epoch","type":"nominal","scale":{"domain":["Period","Epoch"],"range":[0,51],"paddingInner":0,"paddingOuter":0},"axis":null},"y":{"datum":6.37,"type":"quantitative","axis":null},"text":{"value":"Miocene"}}},

 {"data":{"name":"lr04"},"mark":{"type":"area","orient":"horizontal","color":"#34549b"},
  "encoding":{"x":{"field":"v","type":"quantitative","scale":{"domain":[5,2.5],"range":[61,234],"nice":false,"zero":false},
    "axis":{"orient":"bottom","offset":64,"values":[5,4.75,4.5,4.25,4,3.75,3.5,3.25,3,2.75,2.5],"labelExpr":"datum.value % 0.5 == 0 ? format(datum.value, '.1f') : ''","labelOverlap":false,"labelFlush":false,"tickSize":9,"labelPadding":5,"labelFontSize":14,"title":"(‰)","titleFontSize":14,"titlePadding":3}},
   "x2":{"datum":3.2},
   "y":{"field":"age","type":"quantitative","axis":null}}},
 {"data":{"name":"one"},"mark":{"type":"rule","color":"#222","strokeWidth":2},"encoding":{"x":{"datum":3.2,"type":"quantitative","scale":{"domain":[5,2.5],"range":[61,234]},"axis":null},"y":{"datum":0,"type":"quantitative","axis":null},"y2":{"datum":5.78}}},
 {"data":{"name":"one"},"mark":{"type":"text","fontSize":20},"encoding":{"x":{"datum":3.627,"type":"quantitative","scale":{"domain":[5,2.5],"range":[61,234]},"axis":null},"y":{"datum":-1.76,"type":"quantitative","axis":null},"text":{"value":"LR04"}}},
 {"data":{"name":"one"},"mark":{"type":"text","fontSize":17},"encoding":{"x":{"datum":3.627,"type":"quantitative","scale":{"domain":[5,2.5],"range":[61,234]},"axis":null},"y":{"datum":-1.097,"type":"quantitative","axis":null},"text":{"value":"(δ¹⁸O)"}}},
 {"data":{"name":"one"},"mark":{"type":"text","fontSize":15},"encoding":{"x":{"datum":3.974,"type":"quantitative","scale":{"domain":[5,2.5],"range":[61,234]},"axis":null},"y":{"datum":3.3,"type":"quantitative","axis":null},"text":{"value":"M2"}}},
 {"data":{"name":"one"},"mark":{"type":"text","fontSize":15},"encoding":{"x":{"datum":3.902,"type":"quantitative","scale":{"domain":[5,2.5],"range":[61,234]},"axis":null},"y":{"datum":3.7,"type":"quantitative","axis":null},"text":{"value":"Gi2 / Gi4"}}},
 {"data":{"name":"one"},"mark":{"type":"text","fontSize":16,"align":"left"},"encoding":{"x":{"datum":4.855,"type":"quantitative","scale":{"domain":[5,2.5],"range":[61,234]},"axis":null},"y":{"datum":5.217,"type":"quantitative","axis":null},"text":{"value":"Present-day"}}},
 {"data":{"name":"one"},"mark":{"type":"text","fontSize":16,"align":"left"},"encoding":{"x":{"datum":4.855,"type":"quantitative","scale":{"domain":[5,2.5],"range":[61,234]},"axis":null},"y":{"datum":5.446,"type":"quantitative","axis":null},"text":{"value":"δ¹⁸O value"}}},
 {"data":{"name":"one"},"mark":{"type":"rule","color":"#222","strokeWidth":1.5},"encoding":{"x":{"datum":3.786,"type":"quantitative","scale":{"domain":[5,2.5],"range":[61,234]},"axis":null},"x2":{"datum":3.38},"y":{"datum":5.64,"type":"quantitative","axis":null},"y2":{"datum":5.68}}},
 {"data":{"name":"one"},"mark":{"type":"point","shape":"triangle-right","filled":true,"size":35,"color":"#222","opacity":1},"encoding":{"x":{"datum":3.34,"type":"quantitative","scale":{"domain":[5,2.5],"range":[61,234]},"axis":null},"y":{"datum":5.68,"type":"quantitative","axis":null}}},
 {"data":{"name":"one"},"mark":{"type":"text","fontSize":17},"encoding":{"x":{"datum":3.757,"type":"quantitative","scale":{"domain":[5,2.5],"range":[61,234]},"axis":null},"y":{"datum":7.156,"type":"quantitative","axis":null},"text":{"value":"(a)"}}},
 {"data":{"name":"one"},"mark":{"type":"text","fontSize":16,"fontStyle":"italic","align":"right"},"encoding":{"x":{"datum":4.104,"type":"quantitative","scale":{"domain":[5,2.5],"range":[61,234]},"axis":null},"y":{"datum":7.589,"type":"quantitative","axis":null},"text":{"value":"High"}}},
 {"data":{"name":"one"},"mark":{"type":"text","fontSize":16,"fontStyle":"italic","align":"left"},"encoding":{"x":{"datum":3.367,"type":"quantitative","scale":{"domain":[5,2.5],"range":[61,234]},"axis":null},"y":{"datum":7.589,"type":"quantitative","axis":null},"text":{"value":"Low"}}},
 {"data":{"name":"one"},"mark":{"type":"rule","color":"#222","strokeWidth":1.5},"encoding":{"x":{"datum":4.06,"type":"quantitative","scale":{"domain":[5,2.5],"range":[61,234]},"axis":null},"x2":{"datum":3.425},"y":{"datum":7.589,"type":"quantitative","axis":null}}},
 {"data":{"name":"one"},"mark":{"type":"point","shape":"triangle-left","filled":true,"size":40,"color":"#222","opacity":1},"encoding":{"x":{"datum":4.017,"type":"quantitative","scale":{"domain":[5,2.5],"range":[61,234]},"axis":null},"y":{"datum":7.589,"type":"quantitative","axis":null}}},
 {"data":{"name":"one"},"mark":{"type":"point","shape":"triangle-right","filled":true,"size":40,"color":"#222","opacity":1},"encoding":{"x":{"datum":3.468,"type":"quantitative","scale":{"domain":[5,2.5],"range":[61,234]},"axis":null},"y":{"datum":7.589,"type":"quantitative","axis":null}}},
 {"data":{"name":"one"},"mark":{"type":"text","fontSize":16},"encoding":{"x":{"datum":3.64,"type":"quantitative","scale":{"domain":[5,2.5],"range":[61,234]},"axis":null},"y":{"datum":7.83,"type":"quantitative","axis":null},"text":{"value":"Ice volume"}}},

 {"data":{"name":"loess"},"mark":{"type":"line","color":"#2e7c66","strokeWidth":2},
  "encoding":{"x":{"field":"v","type":"quantitative","scale":{"domain":[0,1],"range":[224,394],"nice":false,"zero":false},
    "axis":{"orient":"top","offset":14,"values":[0,0.1,0.2,0.3,0.4,0.5,0.6,0.7,0.8,0.9,1],"labelExpr":"(datum.value == 0 || datum.value == 0.2 || datum.value == 0.4 || datum.value == 0.6 || datum.value == 0.8 || datum.value == 1) ? format(datum.value, '.1f') : ''","labelOverlap":false,"labelFlush":false,"tickSize":9,"labelPadding":3,"labelFontSize":13,"title":null}},
   "y":{"field":"age","type":"quantitative","axis":null},
   "order":{"field":"age","type":"quantitative"}}},
 {"data":{"name":"one"},"mark":{"type":"text","fontSize":20},"encoding":{"x":{"datum":0.553,"type":"quantitative","scale":{"domain":[0,1],"range":[224,394]},"axis":null},"y":{"datum":-1.747,"type":"quantitative","axis":null},"text":{"value":"Chinese Loess"}}},
 {"data":{"name":"one"},"mark":{"type":"text","fontSize":20},"encoding":{"x":{"datum":0.553,"type":"quantitative","scale":{"domain":[0,1],"range":[224,394]},"axis":null},"y":{"datum":-1.467,"type":"quantitative","axis":null},"text":{"value":"Plateau"}}},
 {"data":{"name":"one"},"mark":{"type":"text","fontSize":17},"encoding":{"x":{"datum":0.553,"type":"quantitative","scale":{"domain":[0,1],"range":[224,394]},"axis":null},"y":{"datum":-1.097,"type":"quantitative","axis":null},"text":{"value":"Summer monsoon"}}},
 {"data":{"name":"one"},"mark":{"type":"text","fontSize":17},"encoding":{"x":{"datum":0.553,"type":"quantitative","scale":{"domain":[0,1],"range":[224,394]},"axis":null},"y":{"datum":-0.855,"type":"quantitative","axis":null},"text":{"value":"index"}}},
 {"data":{"name":"one"},"mark":{"type":"text","fontSize":17},"encoding":{"x":{"datum":0.541,"type":"quantitative","scale":{"domain":[0,1],"range":[224,394]},"axis":null},"y":{"datum":7.17,"type":"quantitative","axis":null},"text":{"value":"(b)"}}},
 {"data":{"name":"one"},"mark":{"type":"text","fontSize":16,"fontStyle":"italic","align":"right"},"encoding":{"x":{"datum":0.365,"type":"quantitative","scale":{"domain":[0,1],"range":[224,394]},"axis":null},"y":{"datum":7.589,"type":"quantitative","axis":null},"text":{"value":"Weak"}}},
 {"data":{"name":"one"},"mark":{"type":"text","fontSize":16,"fontStyle":"italic","align":"left"},"encoding":{"x":{"datum":0.682,"type":"quantitative","scale":{"domain":[0,1],"range":[224,394]},"axis":null},"y":{"datum":7.589,"type":"quantitative","axis":null},"text":{"value":"Strong"}}},
 {"data":{"name":"one"},"mark":{"type":"rule","color":"#222","strokeWidth":1.5},"encoding":{"x":{"datum":0.376,"type":"quantitative","scale":{"domain":[0,1],"range":[224,394]},"axis":null},"x2":{"datum":0.659},"y":{"datum":7.589,"type":"quantitative","axis":null}}},
 {"data":{"name":"one"},"mark":{"type":"point","shape":"triangle-left","filled":true,"size":40,"color":"#222","opacity":1},"encoding":{"x":{"datum":0.394,"type":"quantitative","scale":{"domain":[0,1],"range":[224,394]},"axis":null},"y":{"datum":7.589,"type":"quantitative","axis":null}}},
 {"data":{"name":"one"},"mark":{"type":"point","shape":"triangle-right","filled":true,"size":40,"color":"#222","opacity":1},"encoding":{"x":{"datum":0.641,"type":"quantitative","scale":{"domain":[0,1],"range":[224,394]},"axis":null},"y":{"datum":7.589,"type":"quantitative","axis":null}}},
 {"data":{"name":"one"},"mark":{"type":"text","fontSize":16},"encoding":{"x":{"datum":0.553,"type":"quantitative","scale":{"domain":[0,1],"range":[224,394]},"axis":null},"y":{"datum":7.83,"type":"quantitative","axis":null},"text":{"value":"Summer monsoon"}}},

 {"data":{"name":"dust"},"mark":{"type":"line","color":"#a08b66","strokeWidth":2},
  "encoding":{"x":{"field":"v","type":"quantitative","scale":{"domain":[0,0.15],"range":[420,592],"nice":false,"zero":false},
    "axis":{"orient":"bottom","offset":64,"values":[0,0.015,0.03,0.045,0.06,0.075,0.09,0.105,0.12,0.135,0.15],"labelExpr":"(datum.value == 0 || datum.value == 0.06 || datum.value == 0.12) ? format(datum.value, '.2f') : ''","labelOverlap":false,"labelFlush":false,"tickSize":9,"labelPadding":5,"labelFontSize":14,"title":null}},
   "y":{"field":"age","type":"quantitative","axis":null},
   "order":{"field":"age","type":"quantitative"}}},
 {"data":{"name":"one"},"mark":{"type":"text","fontSize":20},"encoding":{"x":{"datum":0.0811,"type":"quantitative","scale":{"domain":[0,0.15],"range":[420,592]},"axis":null},"y":{"datum":-1.747,"type":"quantitative","axis":null},"text":{"value":"Pacific Ocean"}}},
 {"data":{"name":"one"},"mark":{"type":"text","fontSize":20},"encoding":{"x":{"datum":0.0811,"type":"quantitative","scale":{"domain":[0,0.15],"range":[420,592]},"axis":null},"y":{"datum":-1.467,"type":"quantitative","axis":null},"text":{"value":"(ODP Sites 885/886)"}}},
 {"data":{"name":"one"},"mark":{"type":"text","fontSize":17},"encoding":{"x":{"datum":0.0811,"type":"quantitative","scale":{"domain":[0,0.15],"range":[420,592]},"axis":null},"y":{"datum":-1.097,"type":"quantitative","axis":null},"text":{"value":"Dust accumulation rates"}}},
 {"data":{"name":"one"},"mark":{"type":"text","fontSize":13},"encoding":{"x":{"datum":0.0811,"type":"quantitative","scale":{"domain":[0,0.15],"range":[420,592]},"axis":null},"y":{"datum":-0.88,"type":"quantitative","axis":null},"text":{"value":"(g/cm² x ka)"}}},
 {"data":{"name":"one"},"mark":{"type":"text","fontSize":17},"encoding":{"x":{"datum":0.0532,"type":"quantitative","scale":{"domain":[0,0.15],"range":[420,592]},"axis":null},"y":{"datum":7.18,"type":"quantitative","axis":null},"text":{"value":"(c)"}}},
 {"data":{"name":"one"},"mark":{"type":"text","fontSize":16,"fontStyle":"italic","align":"right"},"encoding":{"x":{"datum":0.0288,"type":"quantitative","scale":{"domain":[0,0.15],"range":[420,592]},"axis":null},"y":{"datum":7.589,"type":"quantitative","axis":null},"text":{"value":"Low"}}},
 {"data":{"name":"one"},"mark":{"type":"text","fontSize":16,"fontStyle":"italic","align":"left"},"encoding":{"x":{"datum":0.0794,"type":"quantitative","scale":{"domain":[0,0.15],"range":[420,592]},"axis":null},"y":{"datum":7.589,"type":"quantitative","axis":null},"text":{"value":"High"}}},
 {"data":{"name":"one"},"mark":{"type":"rule","color":"#222","strokeWidth":1.5},"encoding":{"x":{"datum":0.0331,"type":"quantitative","scale":{"domain":[0,0.15],"range":[420,592]},"axis":null},"x2":{"datum":0.075},"y":{"datum":7.589,"type":"quantitative","axis":null}}},
 {"data":{"name":"one"},"mark":{"type":"point","shape":"triangle-left","filled":true,"size":40,"color":"#222","opacity":1},"encoding":{"x":{"datum":0.0358,"type":"quantitative","scale":{"domain":[0,0.15],"range":[420,592]},"axis":null},"y":{"datum":7.589,"type":"quantitative","axis":null}}},
 {"data":{"name":"one"},"mark":{"type":"point","shape":"triangle-right","filled":true,"size":40,"color":"#222","opacity":1},"encoding":{"x":{"datum":0.0724,"type":"quantitative","scale":{"domain":[0,0.15],"range":[420,592]},"axis":null},"y":{"datum":7.589,"type":"quantitative","axis":null}}},
 {"data":{"name":"one"},"mark":{"type":"text","fontSize":16},"encoding":{"x":{"datum":0.0567,"type":"quantitative","scale":{"domain":[0,0.15],"range":[420,592]},"axis":null},"y":{"datum":7.83,"type":"quantitative","axis":null},"text":{"value":"Dust input"}}},

 {"data":{"name":"art"},"mark":{"type":"line","color":"#e5683a","strokeWidth":2},
  "encoding":{"x":{"field":"v","type":"quantitative","scale":{"domain":[0,60],"range":[591,763],"nice":false,"zero":false},
    "axis":{"orient":"top","offset":14,"values":[0,10,20,30,40,50,60],"labelExpr":"datum.value % 20 == 0 ? datum.label : ''","labelOverlap":false,"labelFlush":false,"tickSize":9,"labelPadding":3,"labelFontSize":13,"title":null}},
   "y":{"field":"age","type":"quantitative","axis":null},
   "order":{"field":"age","type":"quantitative"}}},
 {"data":{"name":"one"},"mark":{"type":"text","fontSize":17,"fontStyle":"italic"},"encoding":{"x":{"datum":33.1,"type":"quantitative","scale":{"domain":[0,60],"range":[591,763]},"axis":null},"y":{"datum":-1.11,"type":"quantitative","axis":null},"text":{"value":"Artemisia"}}},
 {"data":{"name":"one"},"mark":{"type":"text","fontSize":13},"encoding":{"x":{"datum":30,"type":"quantitative","scale":{"domain":[0,60],"range":[591,763]},"axis":null},"y":{"datum":-0.574,"type":"quantitative","axis":null},"text":{"value":"(%)"}}},
 {"data":{"name":"one"},"mark":{"type":"text","fontSize":17},"encoding":{"x":{"datum":27.6,"type":"quantitative","scale":{"domain":[0,60],"range":[591,763]},"axis":null},"y":{"datum":7.17,"type":"quantitative","axis":null},"text":{"value":"(d)"}}},

 {"data":{"name":"apc"},"mark":{"type":"point","filled":false,"color":"#3a62a7","strokeWidth":1.6,"size":22,"opacity":1},
  "encoding":{"x":{"field":"v","type":"quantitative","scale":{"domain":[20,90],"range":[736,937],"nice":false,"zero":false},
    "axis":{"orient":"bottom","offset":64,"values":[20,30,40,50,60,70,80,90],"labelExpr":"(datum.value % 20 == 0 && datum.value < 90) ? datum.label : ''","labelOverlap":false,"labelFlush":false,"tickSize":9,"labelPadding":5,"labelFontSize":14,"title":"(%)","titleFontSize":14,"titlePadding":3}},
   "y":{"field":"age","type":"quantitative","axis":null}}},
 {"data":{"name":"one"},"mark":{"type":"rule","color":"#222","strokeWidth":2},"encoding":{"x":{"datum":45,"type":"quantitative","scale":{"domain":[20,90],"range":[736,937]},"axis":null},"y":{"datum":0,"type":"quantitative","axis":null},"y2":{"datum":8.1}}},
 {"data":{"name":"one"},"mark":{"type":"text","fontSize":20},"encoding":{"x":{"datum":59.7,"type":"quantitative","scale":{"domain":[20,90],"range":[736,937]},"axis":null},"y":{"datum":-1.76,"type":"quantitative","axis":null},"text":{"value":"Qaidam Basin (cores SG-1 & SG-1b)"}}},
 {"data":{"name":"one"},"mark":{"type":"text","fontSize":17},"encoding":{"x":{"datum":50.3,"type":"quantitative","scale":{"domain":[20,90],"range":[736,937]},"axis":null},"y":{"datum":-1.11,"type":"quantitative","axis":null},"text":{"value":"A+C"}}},
 {"data":{"name":"one"},"mark":{"type":"text","fontSize":17},"encoding":{"x":{"datum":58,"type":"quantitative","scale":{"domain":[20,90],"range":[736,937]},"axis":null},"y":{"datum":7.17,"type":"quantitative","axis":null},"text":{"value":"(e)"}}},

 {"data":{"name":"one"},"mark":{"type":"rect","color":"#faf7f3"},"encoding":{"x":{"datum":0.0764,"type":"quantitative","scale":{"type":"log","domain":[0.06,10],"range":[893,1064]},"axis":null},"x2":{"datum":7.64},"y":{"datum":3.42,"type":"quantitative","axis":null},"y2":{"datum":7.35}}},
 {"data":{"name":"ac"},"mark":{"type":"bar","orient":"horizontal","height":3},
  "encoding":{"x":{"field":"v","type":"quantitative","scale":{"type":"log","domain":[0.06,10],"range":[893,1064],"nice":false},
    "axis":{"orient":"top","offset":14,"values":[0.06,0.07,0.08,0.09,0.1,0.2,0.3,0.4,0.5,0.6,0.7,0.8,0.9,1,2,3,4,5,6,7,8,9,10],"labelExpr":"datum.value == 0.1 ? '0.1' : (datum.value == 1 ? '1' : (datum.value == 10 ? '10' : ''))","labelOverlap":false,"labelFlush":true,"tickSize":9,"labelPadding":3,"labelFontSize":13,"title":null}},
   "x2":{"datum":1},
   "y":{"field":"age","type":"quantitative","axis":null},
   "color":{"field":"s","type":"nominal","scale":{"domain":["lt1","gt1b","gt1"],"range":["#f0872a","#3a64ab","#1f2878"]},"legend":null}}},
 {"data":{"name":"one"},"mark":{"type":"rule","color":"#333","strokeWidth":2},"encoding":{"x":{"datum":1,"type":"quantitative","scale":{"type":"log","domain":[0.06,10],"range":[893,1064]},"axis":null},"y":{"datum":0,"type":"quantitative","axis":null},"y2":{"datum":7.35}}},
 {"data":{"name":"one"},"mark":{"type":"text","fontSize":17},"encoding":{"x":{"datum":1.03,"type":"quantitative","scale":{"type":"log","domain":[0.06,10],"range":[893,1064]},"axis":null},"y":{"datum":-1.11,"type":"quantitative","axis":null},"text":{"value":"A/C"}}},
 {"data":{"name":"one"},"mark":{"type":"text","fontSize":14},"encoding":{"x":{"datum":1.03,"type":"quantitative","scale":{"type":"log","domain":[0.06,10],"range":[893,1064]},"axis":null},"y":{"datum":-0.842,"type":"quantitative","axis":null},"text":{"value":"Precipitation (mm)"}}},
 {"data":{"name":"one"},"mark":{"type":"text","fontSize":14,"fontStyle":"italic","align":"right"},"encoding":{"x":{"datum":0.293,"type":"quantitative","scale":{"type":"log","domain":[0.06,10],"range":[893,1064]},"axis":null},"y":{"datum":-0.638,"type":"quantitative","axis":null},"text":{"value":"<200"}}},
 {"data":{"name":"one"},"mark":{"type":"text","fontSize":14,"fontStyle":"italic","align":"left"},"encoding":{"x":{"datum":2.53,"type":"quantitative","scale":{"type":"log","domain":[0.06,10],"range":[893,1064]},"axis":null},"y":{"datum":-0.638,"type":"quantitative","axis":null},"text":{"value":"<350"}}},
 {"data":{"name":"one"},"mark":{"type":"rule","color":"#222","strokeWidth":1.5},"encoding":{"x":{"datum":0.362,"type":"quantitative","scale":{"type":"log","domain":[0.06,10],"range":[893,1064]},"axis":null},"x2":{"datum":2.31},"y":{"datum":-0.638,"type":"quantitative","axis":null}}},
 {"data":{"name":"one"},"mark":{"type":"point","shape":"triangle-left","filled":true,"size":40,"color":"#222","opacity":1},"encoding":{"x":{"datum":0.396,"type":"quantitative","scale":{"type":"log","domain":[0.06,10],"range":[893,1064]},"axis":null},"y":{"datum":-0.638,"type":"quantitative","axis":null}}},
 {"data":{"name":"one"},"mark":{"type":"point","shape":"triangle-right","filled":true,"size":40,"color":"#222","opacity":1},"encoding":{"x":{"datum":2.11,"type":"quantitative","scale":{"type":"log","domain":[0.06,10],"range":[893,1064]},"axis":null},"y":{"datum":-0.638,"type":"quantitative","axis":null}}},
 {"data":{"name":"one"},"mark":{"type":"text","fontSize":16,"fontStyle":"italic","angle":270},"encoding":{"x":{"datum":4.2,"type":"quantitative","scale":{"type":"log","domain":[0.06,10],"range":[893,1064]},"axis":null},"y":{"datum":5.23,"type":"quantitative","axis":null},"text":{"value":"Unreliable values"}}},
 {"data":{"name":"one"},"mark":{"type":"text","fontSize":17},"encoding":{"x":{"datum":2.68,"type":"quantitative","scale":{"type":"log","domain":[0.06,10],"range":[893,1064]},"axis":null},"y":{"datum":7.19,"type":"quantitative","axis":null},"text":{"value":"(f)"}}},

 {"data":{"name":"events"},"mark":{"type":"rule","color":"#333","strokeWidth":1.5,"strokeDash":[1.5,3]},
  "encoding":{"x":{"datum":0,"type":"quantitative","scale":{"domain":[0,1],"range":[55,1028]},"axis":null},"x2":{"datum":1},"y":{"field":"age","type":"quantitative","axis":null}}}
]
}
